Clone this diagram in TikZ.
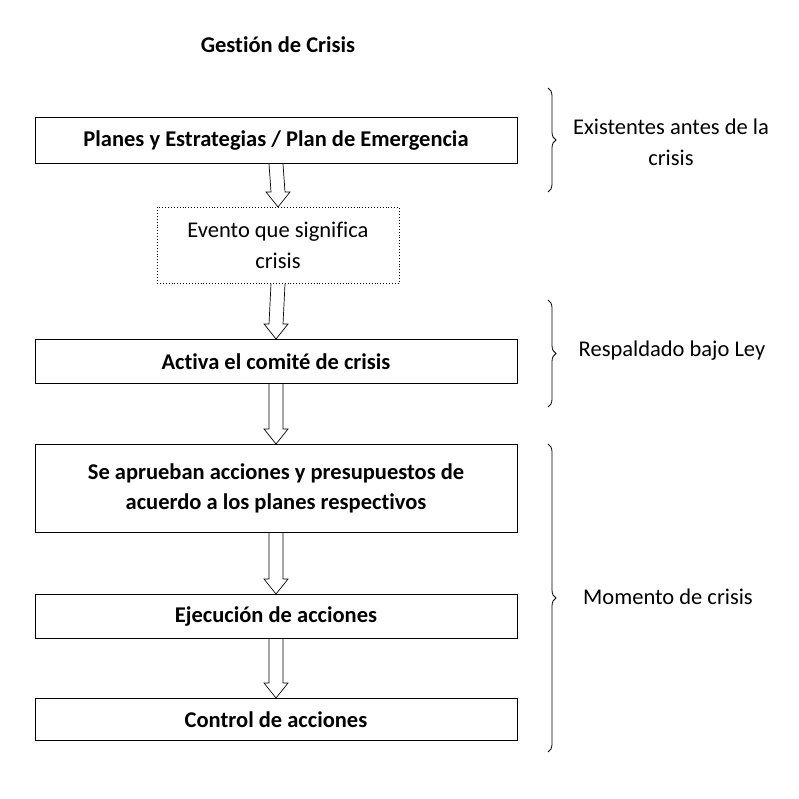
\documentclass[tikz,border=0pt]{standalone}
\usepackage{fontspec}
\setmainfont{Carlito}[Ligatures={NoCommon}]
\usetikzlibrary{calc,decorations.pathreplacing}
\begin{document}
\begin{tikzpicture}[x=1pt,y=-1pt,
  box/.style={draw,line width=0.9pt,minimum width=482pt,anchor=north,font=\fontsize{22.5}{30}\selectfont\bfseries,align=center},
  lbl/.style={font=\fontsize{22.5}{31}\selectfont,align=center},
  brc/.style={decorate,decoration={brace,amplitude=8pt},line width=0.8pt}]
\useasboundingbox (0,0) rectangle (798,799);
\newcommand{\harrow}[2]{\draw[line width=0.7pt] ($(#1.south)+(-7,0)$) -- ($(#2.north)+(-7,-15)$) -- ($(#2.north)+(-12,-15)$) -- (#2.north) -- ($(#2.north)+(12,-15)$) -- ($(#2.north)+(7,-15)$) -- ($(#1.south)+(7,0)$);}
\node[font=\fontsize{22.5}{28}\selectfont\bfseries] (t) at (278,45) {Gestión de Crisis};
\node[box,minimum height=46pt] (b1) at (276,117) {Planes y Estrategias / Plan de Emergencia};
\node[draw,dotted,line width=0.9pt,minimum width=242pt,minimum height=76pt,anchor=north,lbl] (b2) at (278,207) {Evento que significa\\crisis};
\node[box,minimum height=44pt] (b3) at (276,339) {Activa el comité de crisis};
\node[box,minimum height=88pt] (b4) at (276,444) {Se aprueban acciones y presupuestos de\\acuerdo a los planes respectivos};
\node[box,minimum height=44pt] (b5) at (276,594) {Ejecución de acciones};
\node[box,minimum height=42pt] (b6) at (276,698) {Control de acciones};
\harrow{b1}{b2}
\harrow{b2}{b3}
\harrow{b3}{b4}
\harrow{b4}{b5}
\harrow{b5}{b6}
\coordinate (r1a) at (548,88); \coordinate (r1b) at (548,192);
\coordinate (r2a) at (548,300); \coordinate (r2b) at (548,407);
\coordinate (r3a) at (548,444); \coordinate (r3b) at (548,752);
\draw[brc] (r1a) -- (r1b);
\draw[brc] (r2a) -- (r2b);
\draw[brc] (r3a) -- (r3b);
\node[lbl] (l1) at (671,142) {Existentes antes de la\\crisis};
\node[lbl] (l2) at (672,351) {Respaldado bajo Ley};
\node[lbl] (l3) at (668,597) {Momento de crisis};
\end{tikzpicture}
\end{document}
